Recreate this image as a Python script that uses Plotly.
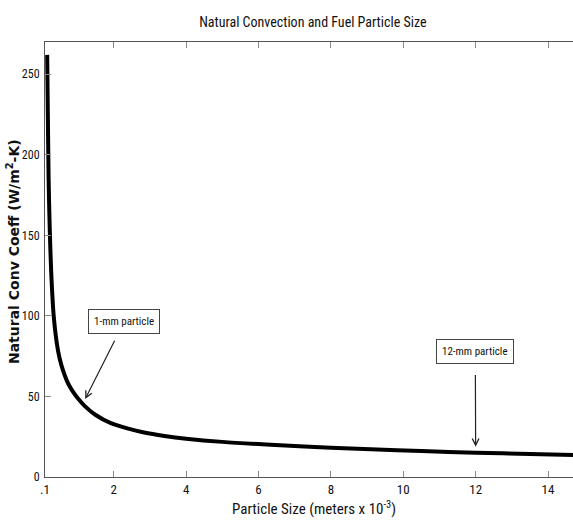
import plotly.graph_objects as go

# Particle diameter (mm) and natural convection coefficient (W/m^2-K)
particle_size = [0.16, 0.18, 0.20, 0.23, 0.27, 0.34, 0.42, 0.50, 0.60, 0.70,
                 0.80, 0.90, 1.00, 1.20, 1.50, 1.92, 2.40, 2.84, 3.40, 4.00,
                 5.00, 6.60, 8.00, 9.10, 10.50, 12.00, 13.50, 14.70]
conv_coeff = [262, 222, 185, 155, 128, 100, 84, 74, 66, 60,
              55.5, 52, 49, 44, 38.5, 33.4, 30, 27.6, 25.5, 23.8,
              21.8, 19.7, 18.2, 17.2, 16.1, 15.1, 14.3, 13.7]

x_tickvals = [0.1, 2, 4, 6, 8, 10, 12, 14]
x_ticktext = [".1", "2", "4", "6", "8", "10", "12", "14"]
y_tickvals = [0, 50, 100, 150, 200, 250]

# Annotated particles: label, arrow tip (x, y), label centre (x, y), gap below the box (px)
callouts = [
    ("1-mm particle", (1.21, 48.4), (2.29, 96.5), 8),
    ("12-mm particle", (12.0, 18.8), (11.99, 77.6), 11),
]

NARROW = "Roboto Condensed, Liberation Sans Narrow, Arial Narrow, sans-serif"

fig = go.Figure()
fig.add_trace(go.Scatter(
    x=particle_size, y=conv_coeff, mode="lines",
    line=dict(color="black", width=4, shape="spline", smoothing=0.8),
    hoverinfo="skip", showlegend=False,
))

annotations = []
for label, tip, centre, gap in callouts:
    annotations.append(dict(
        x=tip[0], y=tip[1], ax=centre[0], ay=centre[1],
        xref="x", yref="y", axref="x", ayref="y",
        text=label, showarrow=True, arrowhead=5, arrowsize=1.1,
        arrowwidth=1.2, arrowcolor="#222222", startstandoff=gap,
        font=dict(family=NARROW, size=11, color="#111111"),
        bordercolor="#444444", borderwidth=1, borderpad=5,
        bgcolor="white",
    ))

annotations.append(dict(
    x=0.509, y=-0.0713, xref="paper", yref="paper",
    text="Particle Size (meters x 10<sup>-3</sup>)", showarrow=False,
    xanchor="center", yanchor="middle",
    font=dict(family=NARROW, size=15, color="#111111"),
))
annotations.append(dict(
    x=-0.0605, y=0.5172, xref="paper", yref="paper",
    text="<b>Natural Conv Coeff (W/m<sup>2</sup>-K)</b>", showarrow=False,
    textangle=-90, xanchor="center", yanchor="middle",
    font=dict(family="DejaVu Sans, sans-serif", size=14, color="#111111"),
))

fig.update_layout(
    width=573, height=529,
    margin=dict(l=45, r=0, t=42, b=52),
    paper_bgcolor="white", plot_bgcolor="white",
    title=dict(
        text="Natural Convection and Fuel Particle Size",
        x=0.546, y=0.959, xanchor="center", yanchor="middle",
        font=dict(family=NARROW, size=14, color="#111111"),
    ),
    xaxis=dict(
        range=[0.1, 14.69], tickvals=x_tickvals, ticktext=x_ticktext,
        showgrid=False, zeroline=False,
        showline=True, linecolor="#555555", linewidth=1, mirror="ticks",
        ticks="inside", ticklen=6, tickcolor="#888888",
        tickfont=dict(family=NARROW, size=13, color="#111111"),
    ),
    yaxis=dict(
        range=[0, 270], tickvals=y_tickvals,
        showgrid=False, zeroline=False,
        showline=True, linecolor="#555555", linewidth=1, mirror=False,
        ticks="inside", ticklen=6, tickcolor="#888888",
        ticklabelstandoff=2,
        tickfont=dict(family=NARROW, size=12, color="#111111"),
    ),
    annotations=annotations,
)

fig.write_html("out.html")
